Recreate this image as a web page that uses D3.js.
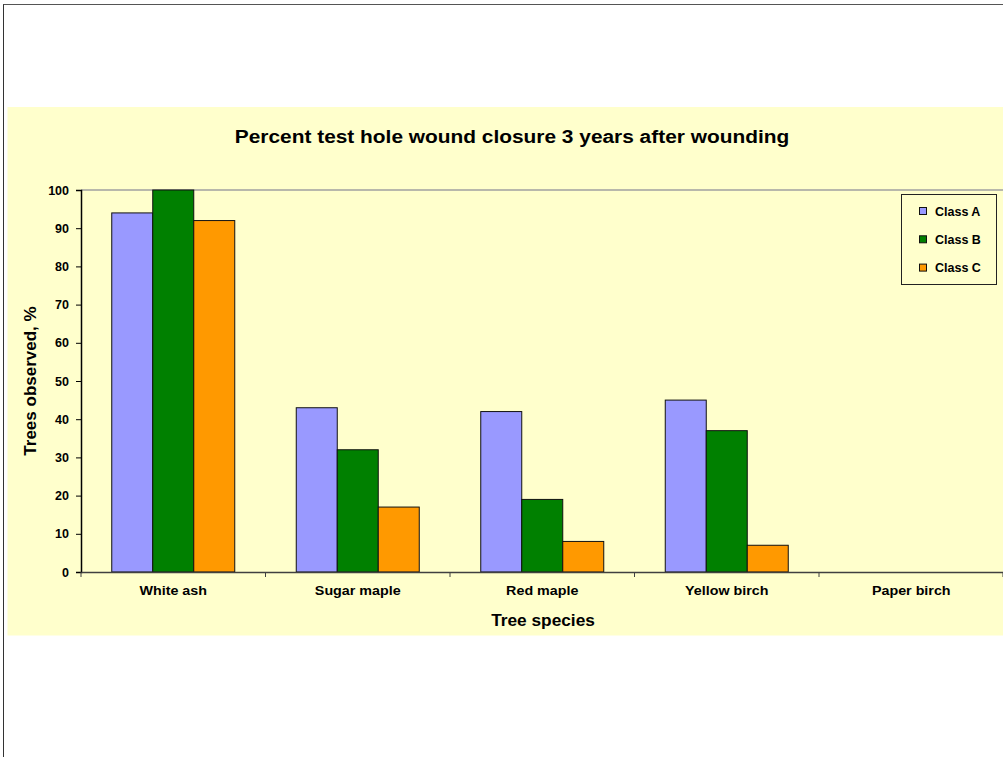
<!DOCTYPE html>
<html>
<head>
<meta charset="utf-8">
<script src="https://cdn.jsdelivr.net/npm/d3@7"></script>
<style>
  body { margin: 0; background: #fff; }
  text { font-family: Arial, "Liberation Sans", sans-serif; font-weight: bold; fill: #000; }
</style>
</head>
<body>
<svg width="1003" height="757"></svg>
<script>
// chart data
var species = ["White ash", "Sugar maple", "Red maple", "Yellow birch", "Paper birch"];
var classes = ["Class A", "Class B", "Class C"];
var classA = [94, 43, 42, 45, null];
var classB = [100, 32, 19, 37, null];
var classC = [92, 17, 8, 7, null];
var yTicks = [0, 10, 20, 30, 40, 50, 60, 70, 80, 90, 100];
var colors = ["#9999ff", "#008000", "#ff9900"];

var series = [classA, classB, classC];

var svg = d3.select("svg");

// outer frame
svg.append("line").attr("x1", 3.5).attr("x2", 3.5).attr("y1", 4).attr("y2", 757)
  .attr("stroke", "#333").attr("stroke-width", 1);
svg.append("line").attr("x1", 3.5).attr("x2", 1003).attr("y1", 4.5).attr("y2", 4.5)
  .attr("stroke", "#555").attr("stroke-width", 1);

// chart area
svg.append("rect").attr("x", 7.5).attr("y", 107).attr("width", 1000).attr("height", 528.5)
  .attr("fill", "#ffffcc");

var plot = {left: 81, right: 1003.5, top: 190, bottom: 572};

var x0 = d3.scaleBand()
    .domain(species)
    .range([plot.left, plot.right])
    .paddingInner(0).paddingOuter(0);

var x1 = d3.scaleBand()
    .domain(classes)
    .range([0, x0.bandwidth()])
    .paddingInner(0).paddingOuter(0.75);

var y = d3.scaleLinear()
    .domain([0, 100])
    .range([plot.bottom, plot.top]);

// gridline at top
svg.append("line")
  .attr("x1", plot.left).attr("x2", 1003)
  .attr("y1", y(100)).attr("y2", y(100))
  .attr("stroke", "#a0a0a0").attr("stroke-width", 1.5);

// bars
var groups = svg.append("g").selectAll("g")
  .data(species)
  .join("g")
    .attr("transform", function(d) { return "translate(" + x0(d) + ",0)"; });

groups.selectAll("rect")
  .data(function(d, i) {
    return classes.map(function(c, j) { return {cls: c, j: j, v: series[j][i]}; })
      .filter(function(e) { return e.v != null; });
  })
  .join("rect")
    .attr("x", function(d) { return x1(d.cls); })
    .attr("y", function(d) { return y(d.v); })
    .attr("width", x1.bandwidth())
    .attr("height", function(d) { return y(0) - y(d.v); })
    .attr("fill", function(d) { return colors[d.j]; })
    .attr("stroke", "#111")
    .attr("stroke-width", 1);

// y axis
var yAxis = svg.append("g")
  .attr("transform", "translate(" + plot.left + ",0)")
  .call(d3.axisLeft(y).tickValues(yTicks).tickSize(5).tickPadding(7));
yAxis.select(".domain").attr("stroke", "#000").attr("stroke-width", 1.5);
yAxis.selectAll(".tick line").attr("stroke", "#000");
yAxis.selectAll("text").style("font-size", "12.5px").attr("fill", "#000");

// x axis
var xAxis = svg.append("g")
  .attr("transform", "translate(0," + plot.bottom + ")")
  .call(d3.axisBottom(x0).tickSize(0).tickPadding(14));
xAxis.select(".domain").attr("stroke", "#404040").attr("stroke-width", 1.5);
xAxis.selectAll("text").style("font-size", "13px").attr("fill", "#000")
  .attr("transform", "scale(1.1,1)");

// category boundary ticks
var bounds = species.map(function(s) { return x0(s); }).concat([plot.right - 0.5]);
svg.append("g").selectAll("line")
  .data(bounds)
  .join("line")
    .attr("x1", function(d) { return d; }).attr("x2", function(d) { return d; })
    .attr("y1", plot.bottom).attr("y2", plot.bottom + 5)
    .attr("stroke", "#404040");

// titles
svg.append("text")
  .attr("transform", "translate(512,143) scale(1.16,1)")
  .attr("text-anchor", "middle")
  .style("font-size", "18px")
  .text("Percent test hole wound closure 3 years after wounding");

svg.append("text")
  .attr("transform", "translate(36,381) rotate(-90)")
  .attr("text-anchor", "middle")
  .style("font-size", "17px")
  .text("Trees observed, %");

svg.append("text")
  .attr("transform", "translate(543,626) scale(1.08,1)")
  .attr("text-anchor", "middle")
  .style("font-size", "16px")
  .text("Tree species");

// legend
var legend = svg.append("g");
legend.append("rect")
  .attr("x", 901.5).attr("y", 194.5).attr("width", 95).attr("height", 90)
  .attr("fill", "#ffffcc").attr("stroke", "#222");

var li = legend.selectAll("g.item")
  .data(classes)
  .join("g")
    .attr("class", "item")
    .attr("transform", function(d, i) { return "translate(919," + (211 + i * 28.3) + ")"; });
li.append("rect")
  .attr("x", 0.5).attr("y", -3.5).attr("width", 7).attr("height", 7)
  .attr("fill", function(d, i) { return colors[i]; })
  .attr("stroke", "#111");
li.append("text")
  .attr("x", 16).attr("y", 4.5)
  .style("font-size", "12.5px")
  .text(function(d) { return d; });
</script>
</body>
</html>
